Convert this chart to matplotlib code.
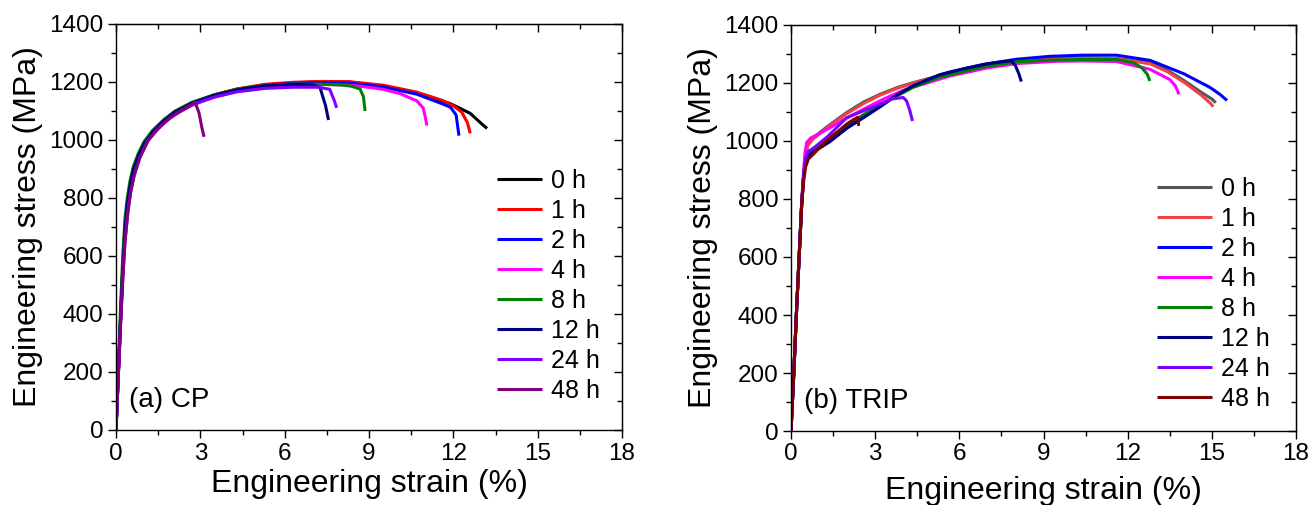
import matplotlib
matplotlib.use("Agg")
import matplotlib.pyplot as plt
from matplotlib.ticker import MultipleLocator

plt.rcParams['font.family'] = ['Liberation Sans', 'DejaVu Sans']

# ---------------- data: CP steel (strain %, stress MPa) ----------------
labels = ["0 h", "1 h", "2 h", "4 h", "8 h", "12 h", "24 h", "48 h"]

cp_colors = ["#000000", "#FF0000", "#0000FF", "#FF00FF", "#008000", "#000080", "#8000FF", "#800080"]
trip_colors = ["#555555", "#EE4444", "#0000FF", "#FF00FF", "#008000", "#000080", "#8000FF", "#800000"]

cp_strain_0h = [0, 0.08, 0.16, 0.24, 0.32, 0.40, 0.50, 0.62, 0.80, 1.0, 1.3, 1.7, 2.1, 2.7, 3.5, 4.3, 5.3, 6.3, 7.3, 8.3, 9.5, 10.7, 11.9, 12.6, 13.05, 13.2]
cp_stress_0h = [0, 190, 380, 560, 700, 780, 845, 900, 950, 990, 1030, 1068, 1098, 1128, 1155, 1175, 1190, 1197, 1201, 1200, 1186, 1163, 1125, 1092, 1052, 1040]

cp_strain_1h = [0, 0.08, 0.16, 0.24, 0.32, 0.40, 0.50, 0.62, 0.80, 1.0, 1.3, 1.7, 2.1, 2.7, 3.5, 4.3, 5.3, 6.3, 7.3, 8.3, 9.5, 10.7, 11.6, 12.0, 12.3, 12.5, 12.6]
cp_stress_1h = [0, 190, 380, 560, 700, 780, 845, 900, 950, 990, 1030, 1068, 1098, 1128, 1156, 1176, 1192, 1199, 1202, 1201, 1189, 1165, 1137, 1118, 1096, 1060, 1023]

cp_strain_2h = [0, 0.08, 0.16, 0.24, 0.32, 0.40, 0.50, 0.62, 0.80, 1.0, 1.3, 1.7, 2.1, 2.7, 3.5, 4.3, 5.3, 6.3, 7.3, 8.3, 9.5, 10.7, 11.6, 11.9, 12.1, 12.2]
cp_stress_2h = [0, 185, 370, 550, 690, 775, 840, 895, 945, 985, 1025, 1065, 1095, 1126, 1153, 1173, 1188, 1195, 1198, 1196, 1183, 1158, 1125, 1113, 1086, 1015]

cp_strain_4h = [0, 0.08, 0.16, 0.24, 0.32, 0.40, 0.50, 0.62, 0.80, 1.0, 1.3, 1.7, 2.1, 2.7, 3.5, 4.3, 5.3, 6.3, 7.3, 8.3, 8.9, 9.5, 10.1, 10.7, 10.93, 11.0, 11.06]
cp_stress_4h = [0, 185, 370, 545, 680, 765, 830, 885, 935, 978, 1018, 1058, 1088, 1120, 1148, 1168, 1183, 1190, 1192, 1189, 1183, 1175, 1160, 1135, 1110, 1080, 1050]

cp_strain_8h = [0, 0.08, 0.16, 0.24, 0.32, 0.40, 0.50, 0.62, 0.80, 1.0, 1.3, 1.7, 2.1, 2.7, 3.5, 4.3, 5.3, 6.3, 7.3, 8.0, 8.4, 8.68, 8.8, 8.86]
cp_stress_8h = [0, 210, 420, 600, 730, 800, 860, 910, 955, 995, 1033, 1070, 1100, 1130, 1156, 1175, 1188, 1193, 1192, 1190, 1185, 1176, 1150, 1100]

cp_strain_12h = [0, 0.08, 0.16, 0.24, 0.32, 0.40, 0.50, 0.62, 0.80, 1.0, 1.3, 1.7, 2.1, 2.7, 3.5, 4.3, 5.3, 6.3, 7.0, 7.26, 7.45, 7.56]
cp_stress_12h = [0, 190, 380, 555, 695, 778, 842, 897, 947, 987, 1027, 1066, 1096, 1127, 1154, 1173, 1187, 1192, 1190, 1180, 1120, 1069]

cp_strain_24h = [0, 0.08, 0.16, 0.24, 0.32, 0.42, 0.52, 0.65, 0.85, 1.15, 1.5, 1.9, 2.3, 2.8, 3.5, 4.3, 5.3, 6.3, 7.2, 7.6, 7.75, 7.85]
cp_stress_24h = [0, 180, 360, 520, 650, 750, 820, 880, 940, 1000, 1040, 1075, 1100, 1125, 1148, 1166, 1178, 1182, 1182, 1175, 1140, 1111]

cp_strain_48h = [0, 0.08, 0.16, 0.24, 0.32, 0.42, 0.52, 0.65, 0.85, 1.15, 1.5, 1.9, 2.3, 2.81, 2.95, 3.05, 3.13]
cp_stress_48h = [0, 180, 360, 520, 650, 750, 820, 880, 940, 1000, 1040, 1075, 1100, 1130, 1095, 1045, 1011]

# ---------------- data: TRIP steel (strain %, stress MPa) ----------------
trip_strain_0h = [0, 0.1, 0.2, 0.3, 0.38, 0.45, 0.52, 0.6, 0.8, 1.3, 1.98, 2.6, 3.17, 3.8, 4.35, 5.3, 6.85, 8.04, 9.23, 10.4, 11.6, 12.8, 13.4, 14.0, 14.7, 15.0, 15.14]
trip_stress_0h = [0, 200, 420, 620, 780, 880, 950, 990, 1012, 1050, 1098, 1135, 1161, 1185, 1201, 1226, 1260, 1276, 1284, 1287, 1285, 1270, 1245, 1209, 1163, 1145, 1132]

trip_strain_1h = [0, 0.1, 0.2, 0.3, 0.38, 0.45, 0.52, 0.6, 0.8, 1.3, 1.98, 2.6, 3.17, 3.8, 4.35, 5.3, 6.85, 8.04, 9.23, 10.4, 11.6, 12.8, 13.4, 14.0, 14.6, 14.95, 15.05]
trip_stress_1h = [0, 200, 420, 620, 780, 878, 945, 985, 1008, 1046, 1094, 1130, 1158, 1182, 1199, 1224, 1258, 1275, 1283, 1286, 1284, 1266, 1240, 1203, 1160, 1130, 1118]

trip_strain_2h = [0, 0.1, 0.2, 0.3, 0.38, 0.45, 0.52, 0.6, 0.8, 1.39, 2.0, 2.57, 3.2, 3.76, 4.35, 5.3, 5.66, 6.85, 8.04, 9.23, 10.4, 11.6, 12.8, 14.0, 14.93, 15.3, 15.54]
trip_stress_2h = [0, 200, 420, 620, 780, 880, 930, 950, 965, 1000, 1045, 1080, 1120, 1158, 1190, 1228, 1238, 1264, 1282, 1292, 1296, 1296, 1278, 1232, 1185, 1160, 1140]

trip_strain_4h = [0, 0.1, 0.2, 0.3, 0.38, 0.45, 0.5, 0.56, 0.7, 1.0, 1.39, 2.0, 2.57, 3.2, 4.0, 5.66, 7.0, 8.04, 9.5, 10.4, 11.6, 12.8, 13.5, 13.7, 13.83]
trip_stress_4h = [0, 200, 420, 620, 790, 900, 960, 995, 1010, 1025, 1046, 1080, 1109, 1140, 1175, 1224, 1252, 1267, 1275, 1276, 1274, 1247, 1212, 1190, 1161]

trip_strain_8h = [0, 0.1, 0.2, 0.3, 0.38, 0.45, 0.52, 0.6, 0.8, 1.39, 2.0, 2.57, 3.2, 4.35, 5.3, 6.85, 8.04, 9.23, 10.4, 11.6, 12.2, 12.5, 12.7, 12.79]
trip_stress_8h = [0, 200, 420, 620, 780, 880, 935, 960, 975, 1010, 1055, 1090, 1125, 1185, 1220, 1255, 1273, 1279, 1281, 1281, 1270, 1253, 1230, 1207]

trip_strain_12h = [0, 0.1, 0.2, 0.3, 0.38, 0.45, 0.52, 0.6, 0.8, 1.39, 2.0, 2.57, 3.2, 3.76, 4.35, 5.3, 6.2, 7.0, 7.6, 7.85, 8.0, 8.12, 8.21]
trip_stress_12h = [0, 200, 420, 620, 780, 880, 930, 945, 962, 998, 1045, 1080, 1120, 1158, 1190, 1228, 1250, 1266, 1274, 1276, 1260, 1232, 1205]

trip_strain_24h = [0, 0.1, 0.2, 0.3, 0.38, 0.45, 0.52, 0.6, 0.8, 1.3, 1.98, 2.6, 3.17, 3.6, 4.0, 4.12, 4.23, 4.33]
trip_stress_24h = [0, 200, 420, 620, 780, 880, 940, 962, 975, 1015, 1080, 1105, 1127, 1145, 1150, 1138, 1107, 1069]

trip_strain_48h = [0, 0.1, 0.2, 0.3, 0.38, 0.45, 0.52, 0.62, 0.8, 1.1, 1.39, 1.7, 1.98, 2.2, 2.38, 2.40, 2.41]
trip_stress_48h = [0, 200, 420, 620, 780, 860, 910, 938, 955, 985, 1011, 1035, 1058, 1072, 1082, 1066, 1052]

x_ticks = [0, 3, 6, 9, 12, 15, 18]
y_ticks = [0, 200, 400, 600, 800, 1000, 1200, 1400]

cp_series = [(cp_strain_0h, cp_stress_0h), (cp_strain_1h, cp_stress_1h), (cp_strain_2h, cp_stress_2h),
             (cp_strain_4h, cp_stress_4h), (cp_strain_8h, cp_stress_8h), (cp_strain_12h, cp_stress_12h),
             (cp_strain_24h, cp_stress_24h), (cp_strain_48h, cp_stress_48h)]
trip_series = [(trip_strain_0h, trip_stress_0h), (trip_strain_1h, trip_stress_1h), (trip_strain_2h, trip_stress_2h),
               (trip_strain_4h, trip_stress_4h), (trip_strain_8h, trip_stress_8h), (trip_strain_12h, trip_stress_12h),
               (trip_strain_24h, trip_stress_24h), (trip_strain_48h, trip_stress_48h)]

W, H = 1309, 505
fig = plt.figure(figsize=(W / 100, H / 100), dpi=100)


def make_axes(rect, series, colors, tag, leg_anchor, handlelength, xlab_y):
    ax = fig.add_axes(rect)
    for (xs, ys), c, lab in zip(series, colors, labels):
        ax.plot(xs, ys, color=c, lw=2.2, label=lab, solid_capstyle='butt')
    ax.set_xlim(0, 18)
    ax.set_ylim(0, 1400)
    ax.set_xticks(x_ticks)
    ax.set_yticks(y_ticks)
    ax.xaxis.set_minor_locator(MultipleLocator(1.5))
    ax.yaxis.set_minor_locator(MultipleLocator(100))
    ax.tick_params(which='major', direction='out', length=6, width=1, labelsize=17.5, pad=3)
    ax.tick_params(which='minor', direction='out', length=3.5, width=1)
    for sp in ax.spines.values():
        sp.set_linewidth(1.0)
    secx = ax.secondary_xaxis('top')
    secx.set_xticks(x_ticks)
    secx.xaxis.set_minor_locator(MultipleLocator(1.5))
    secx.tick_params(which='major', direction='in', length=6, width=1, labeltop=False)
    secx.tick_params(which='minor', direction='in', length=3.5, width=1)
    secy = ax.secondary_yaxis('right')
    secy.set_yticks(y_ticks)
    secy.yaxis.set_minor_locator(MultipleLocator(100))
    secy.tick_params(which='major', direction='in', length=6, width=1, labelright=False)
    secy.tick_params(which='minor', direction='in', length=3.5, width=1)
    ax.set_xlabel("Engineering strain (%)", fontsize=23, va='center')
    ax.set_ylabel("Engineering stress (MPa)", fontsize=23, va='center')
    ax.yaxis.set_label_coords(-0.174, 0.5)
    ax.xaxis.set_label_coords(0.5, xlab_y)
    ax.text(0.026, 0.075, tag, transform=ax.transAxes, fontsize=20, va='center', ha='left')
    ax.legend(loc='upper left', bbox_to_anchor=leg_anchor, frameon=False, fontsize=18,
              handlelength=handlelength, handletextpad=0.36, labelspacing=0.24,
              borderpad=0, borderaxespad=0)
    return ax


make_axes([116 / W, 1 - 430 / H, 506 / W, 406 / H], cp_series, cp_colors, "(a) CP",
          (0.753, 0.643), 1.8, -0.133)
make_axes([791 / W, 1 - 431 / H, 505 / W, 406 / H], trip_series, trip_colors, "(b) TRIP",
          (0.725, 0.626), 2.2, -0.148)

fig.savefig("out.png", dpi=100)
